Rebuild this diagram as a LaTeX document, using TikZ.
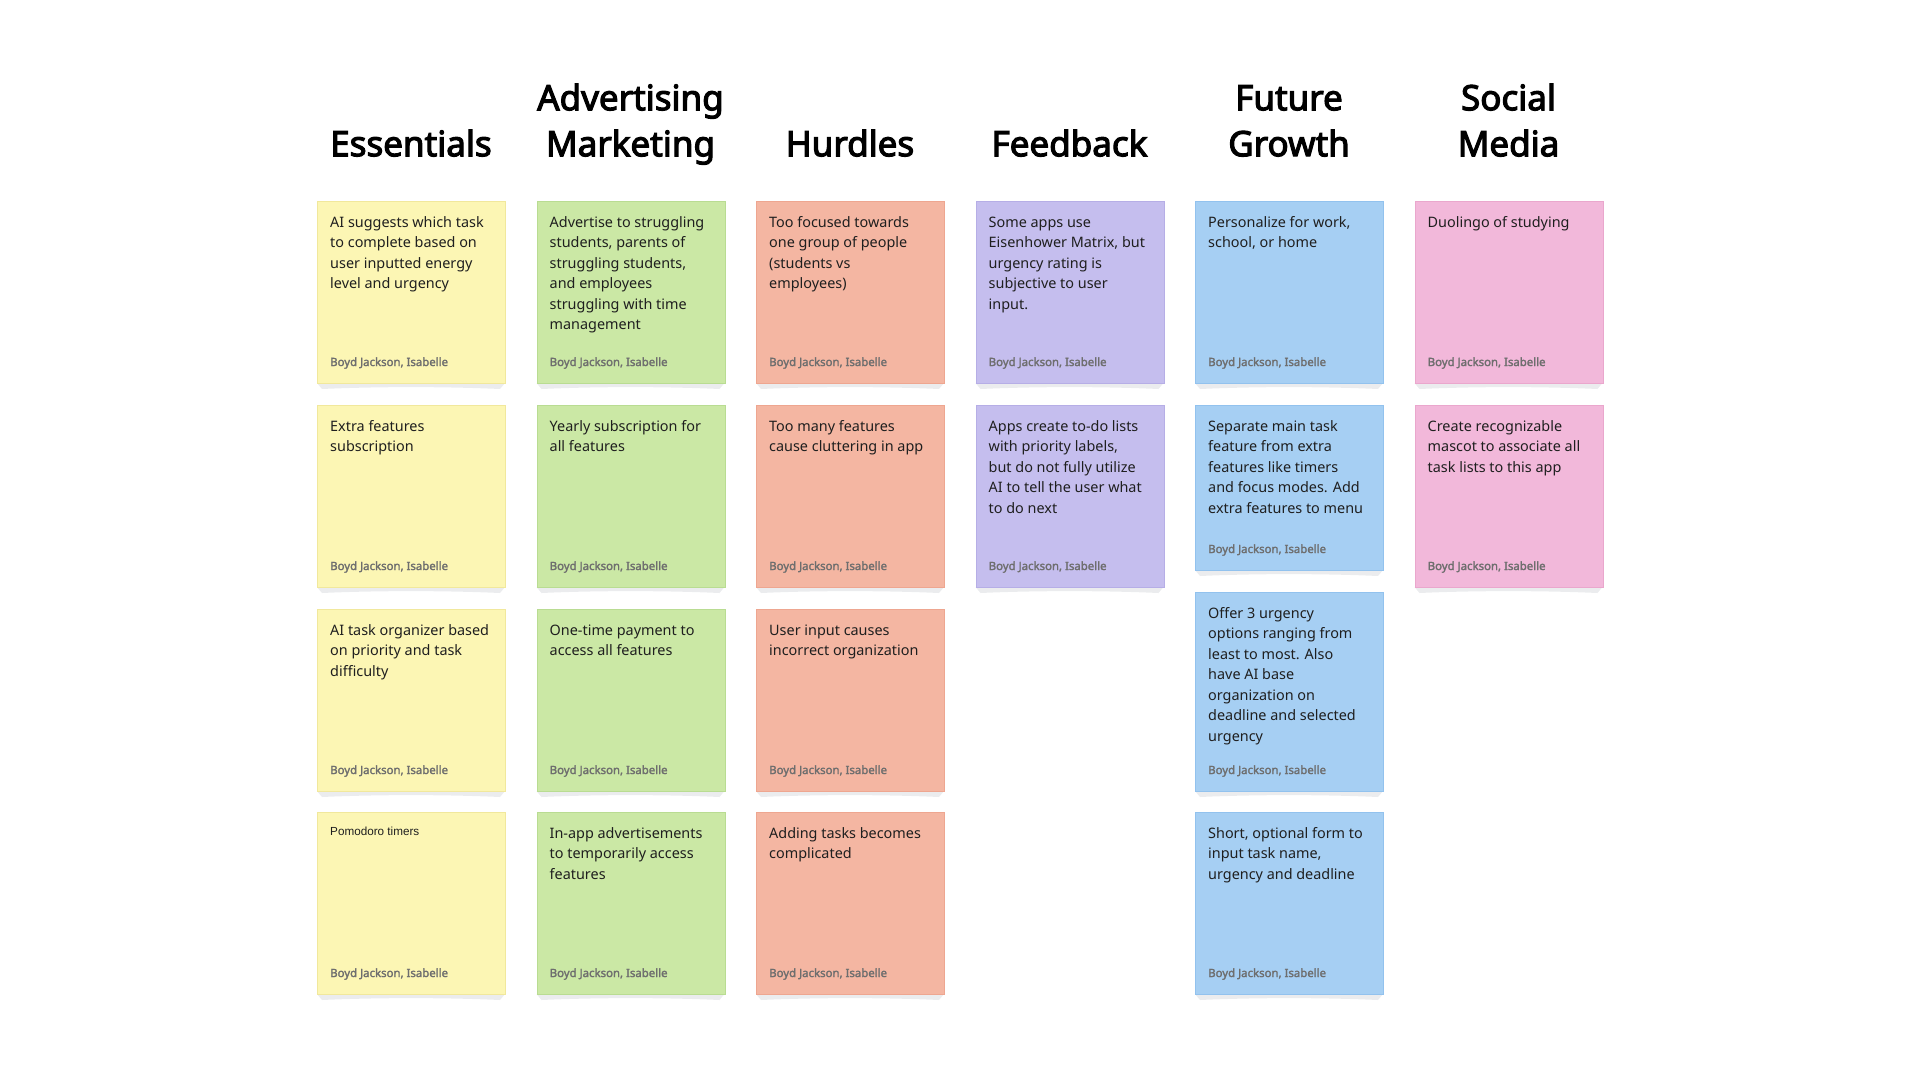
\documentclass[tikz,border=0pt]{standalone}
\usepackage{fontspec}
\setmainfont{Noto Sans}[AutoFakeBold=2]
\newfontfamily\headfont{Noto Sans}[FakeBold=3.2]
\newfontfamily\plainfont{Liberation Sans}

\definecolor{noteYellow}{HTML}{FCF6B4}
\definecolor{noteYellowEdge}{HTML}{F1E89C}
\definecolor{noteGreen}{HTML}{CBE8A5}
\definecolor{noteGreenEdge}{HTML}{B9DC92}
\definecolor{noteSalmon}{HTML}{F4B6A2}
\definecolor{noteSalmonEdge}{HTML}{EEA690}
\definecolor{notePurple}{HTML}{C5BEEE}
\definecolor{notePurpleEdge}{HTML}{B6AEE6}
\definecolor{noteBlue}{HTML}{A6CFF3}
\definecolor{noteBlueEdge}{HTML}{92C2EE}
\definecolor{notePink}{HTML}{F2B8DA}
\definecolor{notePinkEdge}{HTML}{EAA7CD}
\definecolor{curlShade}{HTML}{EBECEE}
\definecolor{authorGray}{HTML}{6E6E6E}

\tikzset{
  note/.style={rectangle, inner sep=0pt, anchor=north west, minimum width=188pt, line width=0.8pt},
  yellownote/.style={note, fill=noteYellow, draw=noteYellowEdge},
  greennote/.style={note, fill=noteGreen, draw=noteGreenEdge},
  salmonnote/.style={note, fill=noteSalmon, draw=noteSalmonEdge},
  purplenote/.style={note, fill=notePurple, draw=notePurpleEdge},
  bluenote/.style={note, fill=noteBlue, draw=noteBlueEdge},
  pinknote/.style={note, fill=notePink, draw=notePinkEdge},
  notebody/.style={anchor=north west, inner sep=0pt, align=left, text=black!88,
    font=\fontsize{14.4}{20.5}\selectfont},
  noteauthor/.style={anchor=base west, inner sep=0pt, text=authorGray,
    font=\bfseries\fontsize{11.4}{12}\selectfont},
  heading/.style={anchor=north, inner sep=0pt, align=center,
    font=\headfont\fontsize{35}{46}\selectfont},
  curl/.style={fill=curlShade}
}

% #1 name, #2 style, #3 left, #4 top, #5 height, #6 first-baseline offset, #7 text
\newcommand\stickynote[7]{%
  \fill[curl] (#3,#4+#5) -- (#3+5,#4+#5+6)
    .. controls (#3+60,#4+#5+3.5) and (#3+128,#4+#5+3.5) .. (#3+183,#4+#5+6)
    -- (#3+188,#4+#5) -- cycle;
  \node[#2, minimum height=#5pt] (#1) at (#3,#4) {};
  \node[notebody] (#1-text) at (#3+13,#4+#6-14) {\rule{0pt}{14pt}#7};
  \node[noteauthor] (#1-by) at (#3+13,#4+#5-17) {Boyd Jackson, Isabelle};
}

\begin{document}
\begin{tikzpicture}[x=1pt,y=-1pt]
\useasboundingbox (0,0) rectangle (1920,1080);

% column headings (first baseline 35pt below the node top)
\node[heading] (h-ess) at (411,121)    {\rule{0pt}{35pt}Essentials};
\node[heading] (h-adv) at (630.5,75)   {\rule{0pt}{35pt}Advertising\\Marketing};
\node[heading] (h-hur) at (850,121)    {\rule{0pt}{35pt}Hurdles};
\node[heading] (h-fee) at (1069.5,121) {\rule{0pt}{35pt}Feedback};
\node[heading] (h-fut) at (1289,75)    {\rule{0pt}{35pt}Future\\Growth};
\node[heading] (h-soc) at (1508.5,75)  {\rule{0pt}{35pt}Social\\Media};

% Essentials
\stickynote{ess1}{yellownote}{317}{201}{182}{26}{AI suggests which task\\to complete based on\\user inputted energy\\level and urgency}
\stickynote{ess2}{yellownote}{317}{405}{182}{26}{Extra features\\subscription}
\stickynote{ess3}{yellownote}{317}{609}{182}{26}{AI task organizer based\\on priority and task\\difficulty}
\stickynote{ess4}{yellownote}{317}{812}{182}{23}{\plainfont\fontsize{11.7}{14}\selectfont Pomodoro timers}

% Advertising / Marketing
\stickynote{adv1}{greennote}{536.5}{201}{182}{26}{Advertise to struggling\\students, parents of\\struggling students,\\and employees\\struggling with time\\management}
\stickynote{adv2}{greennote}{536.5}{405}{182}{26}{Yearly subscription for\\all features}
\stickynote{adv3}{greennote}{536.5}{609}{182}{26}{One-time payment to\\access all features}
\stickynote{adv4}{greennote}{536.5}{812}{182}{26}{In-app advertisements\\to temporarily access\\features}

% Hurdles
\stickynote{hur1}{salmonnote}{756}{201}{182}{26}{Too focused towards\\one group of people\\(students vs\\employees)}
\stickynote{hur2}{salmonnote}{756}{405}{182}{26}{Too many features\\cause cluttering in app}
\stickynote{hur3}{salmonnote}{756}{609}{182}{26}{User input causes\\incorrect organization}
\stickynote{hur4}{salmonnote}{756}{812}{182}{26}{Adding tasks becomes\\complicated}

% Feedback
\stickynote{fee1}{purplenote}{975.5}{201}{182}{26}{Some apps use\\Eisenhower Matrix, but\\urgency rating is\\subjective to user\\input.}
\stickynote{fee2}{purplenote}{975.5}{405}{182}{26}{Apps create to-do lists\\with priority labels,\\but do not fully utilize\\AI to tell the user what\\to do next}

% Future Growth
\stickynote{fut1}{bluenote}{1195}{201}{182}{26}{Personalize for work,\\school, or home}
\stickynote{fut2}{bluenote}{1195}{405}{165}{26}{Separate main task\\feature from extra\\features like timers\\and focus modes. Add\\extra features to menu}
\stickynote{fut3}{bluenote}{1195}{592}{199}{26}{Offer 3 urgency\\options ranging from\\least to most. Also\\have AI base\\organization on\\deadline and selected\\urgency}
\stickynote{fut4}{bluenote}{1195}{812}{182}{26}{Short, optional form to\\input task name,\\urgency and deadline}

% Social Media
\stickynote{soc1}{pinknote}{1414.5}{201}{182}{26}{Duolingo of studying}
\stickynote{soc2}{pinknote}{1414.5}{405}{182}{26}{Create recognizable\\mascot to associate all\\task lists to this app}
\end{tikzpicture}
\end{document}
